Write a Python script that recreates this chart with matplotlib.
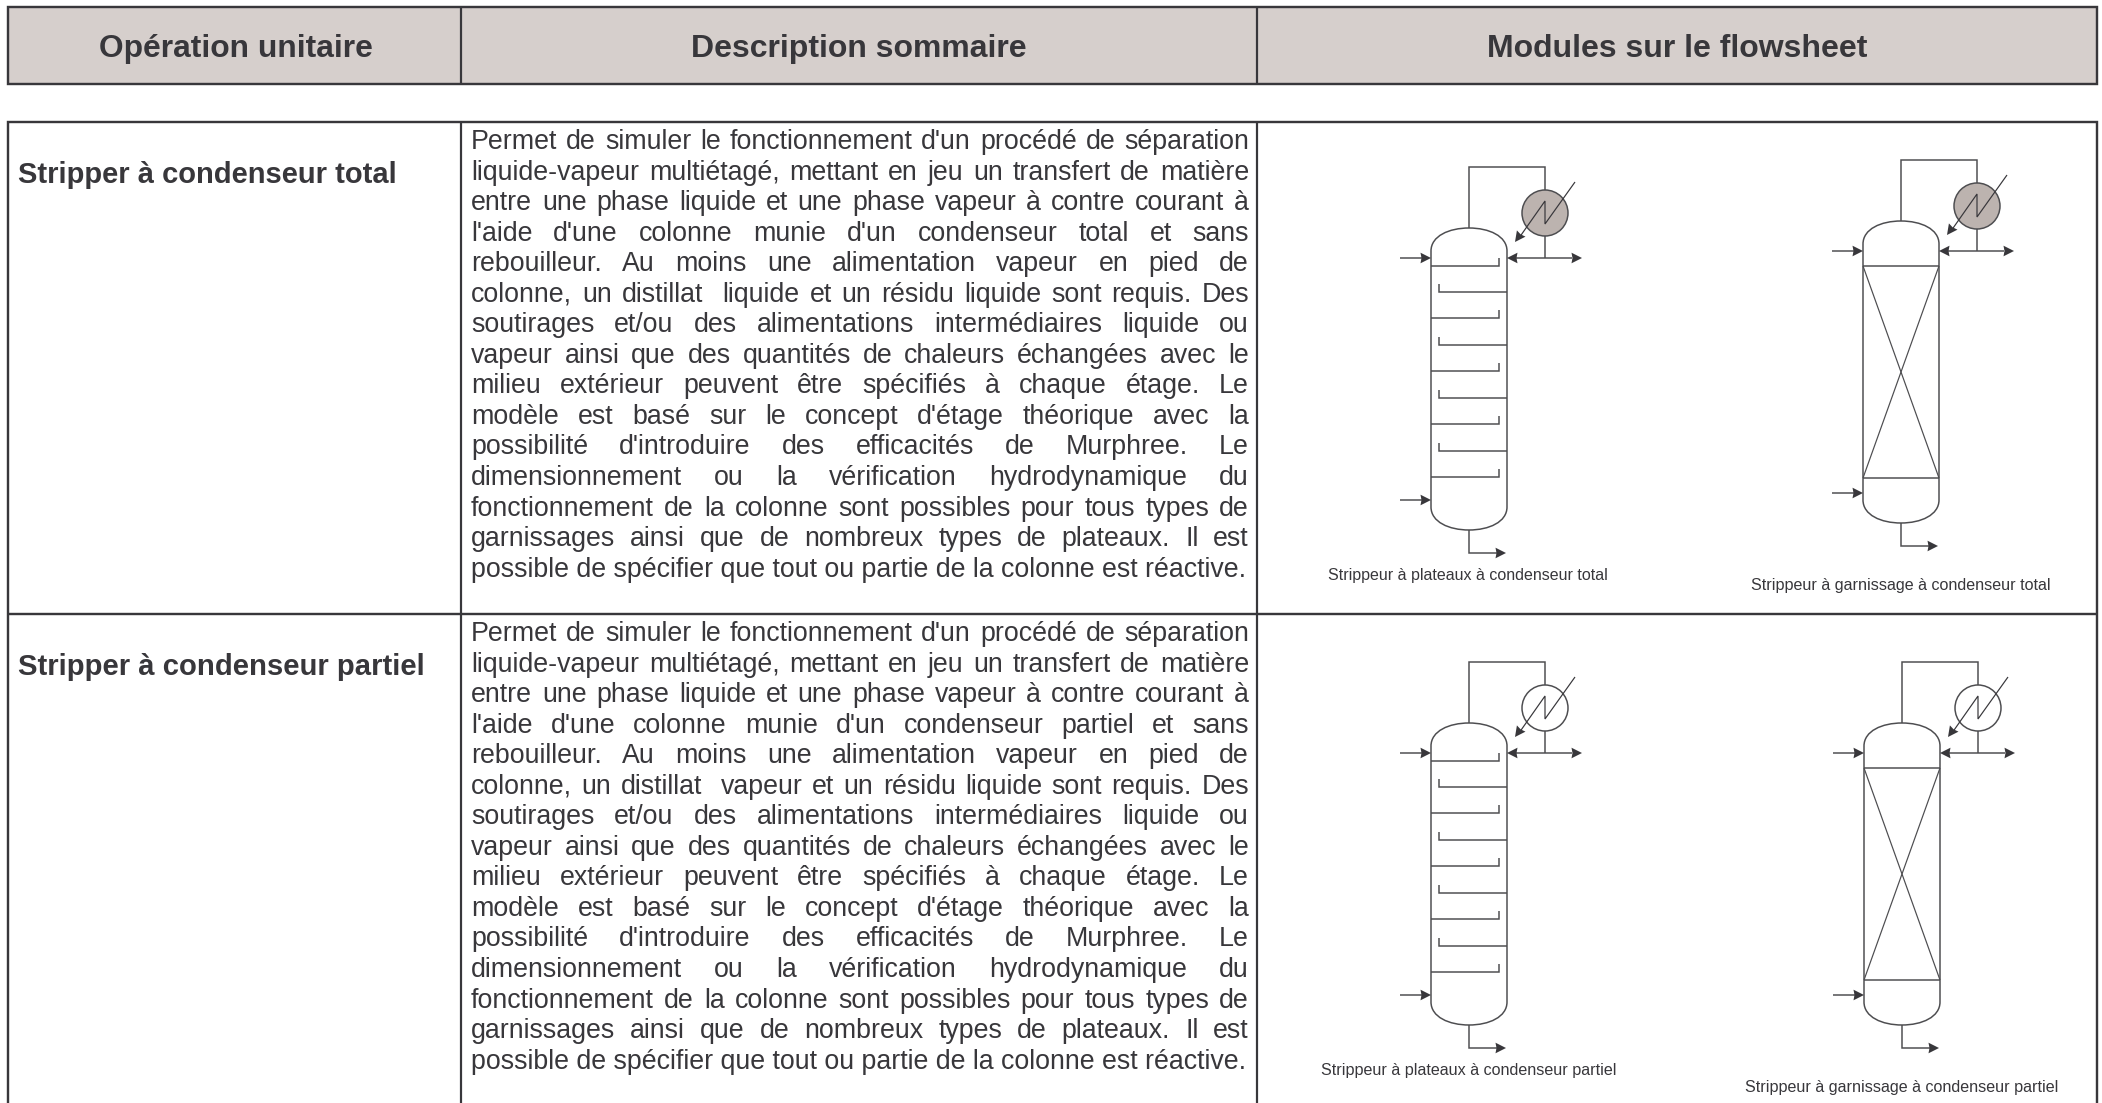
#!/usr/bin/env python3
# -*- coding: utf-8 -*-
import numpy as np
import matplotlib
matplotlib.use('Agg')
import matplotlib.pyplot as plt
from matplotlib.patches import Circle, PathPatch, Polygon, Rectangle
from matplotlib.path import Path

plt.rcParams['font.family'] = ['Liberation Sans', 'DejaVu Sans']

headers = ['Opération unitaire', 'Description sommaire', 'Modules sur le flowsheet']
header_x = [236, 859, 1677]
header_w = [273, 335, 380]

row_labels = ['Stripper à condenseur total', 'Stripper à condenseur partiel']
row_label_y = [183, 675]
row_label_w = [379, 406]

text_total = [
    "Permet de simuler le fonctionnement d'un procédé de séparation",
    "liquide-vapeur multiétagé, mettant en jeu un transfert de matière",
    "entre une phase liquide et une phase vapeur à contre courant à",
    "l'aide d'une colonne munie d'un condenseur total et sans",
    "rebouilleur. Au moins une alimentation vapeur en pied de",
    "colonne, un distillat  liquide et un résidu liquide sont requis. Des",
    "soutirages et/ou des alimentations intermédiaires liquide ou",
    "vapeur ainsi que des quantités de chaleurs échangées avec le",
    "milieu extérieur peuvent être spécifiés à chaque étage. Le",
    "modèle est basé sur le concept d'étage théorique avec la",
    "possibilité d'introduire des efficacités de Murphree. Le",
    "dimensionnement ou la vérification hydrodynamique du",
    "fonctionnement de la colonne sont possibles pour tous types de",
    "garnissages ainsi que de nombreux types de plateaux. Il est",
    "possible de spécifier que tout ou partie de la colonne est réactive.",
]
text_partiel = list(text_total)
text_partiel[3] = "l'aide d'une colonne munie d'un condenseur partiel et sans"
text_partiel[5] = "colonne, un distillat  vapeur et un résidu liquide sont requis. Des"
first_baseline = [149, 641]

# one entry per drawn column
col_x = [1469, 1901, 1469, 1902]
col_top = [228, 221, 723, 723]
col_packed = [False, True, False, True]
col_filled = [True, True, False, False]
captions = ['Strippeur à plateaux à condenseur total',
            'Strippeur à garnissage à condenseur total',
            'Strippeur à plateaux à condenseur partiel',
            'Strippeur à garnissage à condenseur partiel']
caption_x = [1468, 1901, 1469, 1902]
caption_y = [580, 590, 1075, 1092]
caption_w = [281, 300, 296, 315]

tray_y = [38, 64, 90, 117, 143, 170, 196, 223, 249]
packing_y = [45, 257]

DARK = '#38373b'
LINE = '#4d4d50'
HEAD = '#d6cfcc'
COOL = '#bcb3af'
RIGHT = 2097

fig = plt.figure(figsize=(21.02, 11.03), dpi=100)
ax = fig.add_axes([0, 0, 1, 1])
ax.set_xlim(0, 2102)
ax.set_ylim(1103, 0)
ax.axis('off')
px = 72 / 100


def fit(t, width):
    # scale the font so the text is as wide as in the picture
    r = fig.canvas.get_renderer()
    t.set_fontsize(t.get_fontsize() * width / t.get_window_extent(r).width)
    return t


def arrow(tip, frm, size=10.5, half=5.3):
    tip = np.array(tip, float)
    d = tip - np.array(frm, float)
    d = d / np.hypot(*d)
    n = np.array([-d[1], d[0]])
    pts = [tip, tip - d * size + n * half, tip - d * (size - 1), tip - d * size - n * half]
    ax.add_patch(Polygon(pts, closed=True, fc=DARK, ec='none', zorder=4))


def seg(xs, ys, lw=1.5, c=LINE):
    ax.plot(xs, ys, color=c, lw=lw * px, solid_joinstyle='miter', solid_capstyle='butt', zorder=3)


def column(cx, top, packed, filled):
    l, r = cx - 38, cx + 38
    bot = top + 302
    verts = [(l, top + 23), (l, top + 8), (cx - 20, top), (cx, top),
             (cx + 20, top), (r, top + 8), (r, top + 23),
             (r, bot - 23), (r, bot - 8), (cx + 20, bot), (cx, bot),
             (cx - 20, bot), (l, bot - 8), (l, bot - 23), (l, top + 23)]
    codes = [Path.MOVETO] + [Path.CURVE4] * 6 + [Path.LINETO] + [Path.CURVE4] * 6 + [Path.LINETO]
    ax.add_patch(PathPatch(Path(verts, codes), fc='none', ec=LINE, lw=1.5 * px, zorder=3))

    if packed:
        for dy in packing_y:
            seg([l, r], [top + dy, top + dy])
        seg([l, r], [top + packing_y[0], top + packing_y[1]], lw=1.2)
        seg([r, l], [top + packing_y[0], top + packing_y[1]], lw=1.2)
    else:
        for i, dy in enumerate(tray_y):
            y = top + dy
            if i % 2 == 0:
                seg([l, r - 8, r - 8], [y, y, y - 8])
            else:
                seg([l + 8, l + 8, r], [y - 8, y, y])

    # condenser loop
    ccx, ccy = cx + 76, top - 15
    seg([cx, cx, ccx, ccx], [top, top - 61, top - 61, ccy - 23])
    seg([ccx, ccx], [ccy + 23, top + 30])
    ax.add_patch(Circle((ccx, ccy), 23, fc=COOL if filled else 'white', ec=LINE, lw=1.5 * px, zorder=3))
    seg([ccx + 30, ccx, ccx, ccx - 26], [ccy - 31, ccy + 11, ccy - 12, ccy + 25], lw=1.2, c=DARK)
    arrow((ccx - 30, ccy + 29), (ccx, ccy - 12))

    # streams
    y_out = top + 30
    seg([r + 6, cx + 103], [y_out, y_out])
    arrow((r, y_out), (r + 10, y_out))
    arrow((cx + 113, y_out), (cx + 100, y_out))
    for y in (y_out, top + 272):
        seg([l - 31, l - 6], [y, y])
        arrow((l, y), (l - 10, y))
    seg([cx, cx, cx + 30], [bot, bot + 23, bot + 23])
    arrow((cx + 37, bot + 23), (cx + 20, bot + 23))


# table frame
ax.add_patch(Rectangle((8, 7), RIGHT - 8, 76.5, fc=HEAD, ec=DARK, lw=2.4 * px, zorder=2))
ax.add_patch(Rectangle((8, 122), RIGHT - 8, 1000, fc='white', ec=DARK, lw=2.4 * px, zorder=2))
for x in (461, 1257):
    seg([x, x], [7, 83], lw=2.2, c=DARK)
    seg([x, x], [122, 1103], lw=2.2, c=DARK)
seg([8, RIGHT], [613.5, 613.5], lw=2.4, c=DARK)

for s, x, w in zip(headers, header_x, header_w):
    fit(ax.text(x, 57, s, ha='center', va='baseline', fontweight='bold', color=DARK, fontsize=20, zorder=5), w)
for s, y, w in zip(row_labels, row_label_y, row_label_w):
    fit(ax.text(18, y, s, ha='left', va='baseline', fontweight='bold', color=DARK, fontsize=20, zorder=5), w)

# justified description text, word by word
X0, X1 = 471, 1249
probe = ax.text(X0, 0, text_total[-1], fontsize=18)
fit(probe, 774)
body_size = probe.get_fontsize()
probe.remove()
rend = fig.canvas.get_renderer()


def word_w(w):
    t = ax.text(0, 0, w, fontsize=body_size)
    v = t.get_window_extent(rend).width
    t.remove()
    return v


for lines, y0 in zip([text_total, text_partiel], first_baseline):
    for i, line in enumerate(lines):
        y = y0 + i * 30.55
        if i == len(lines) - 1:
            ax.text(X0, y, line, fontsize=body_size, color=DARK, va='baseline', zorder=5)
            continue
        words = line.split(' ')
        widths = [word_w(w) if w else 0 for w in words]
        gap = (X1 - X0 - sum(widths)) / (len(words) - 1)
        x = X0
        for w, wd in zip(words, widths):
            if w:
                ax.text(x, y, w, fontsize=body_size, color=DARK, va='baseline', zorder=5)
            x += wd + gap

for cx, top, packed, filled in zip(col_x, col_top, col_packed, col_filled):
    column(cx, top, packed, filled)
for s, x, y, w in zip(captions, caption_x, caption_y, caption_w):
    fit(ax.text(x, y, s, ha='center', va='baseline', color=DARK, fontsize=10, zorder=5), w)

fig.savefig('out.png', dpi=100, facecolor='white')
